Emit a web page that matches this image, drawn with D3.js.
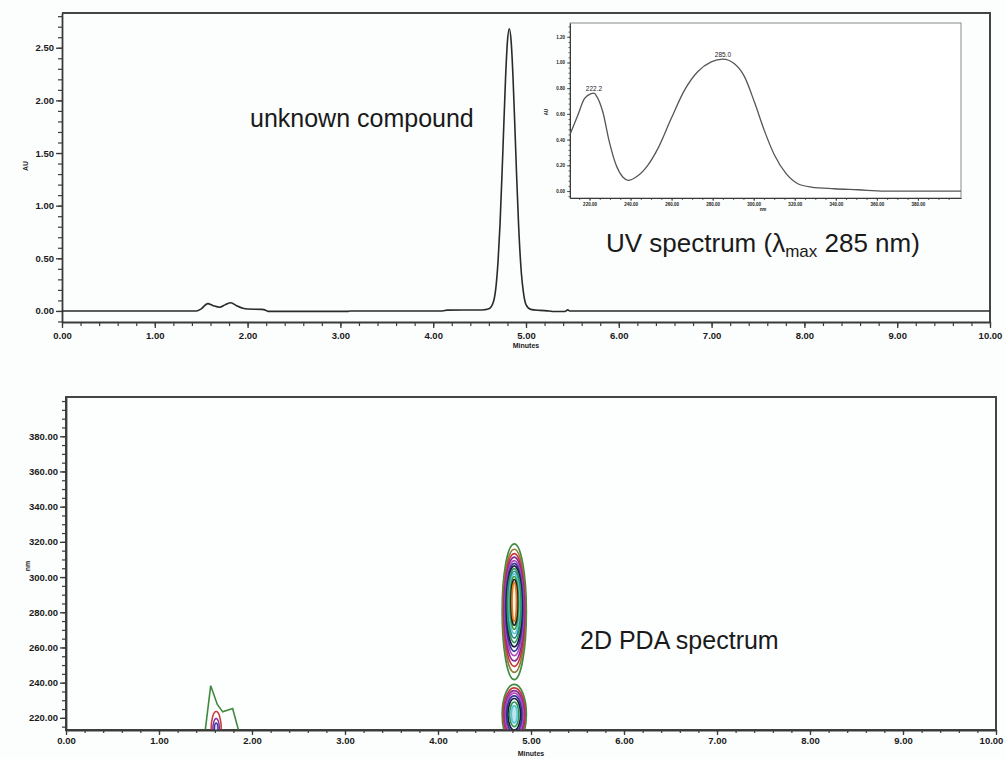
<!DOCTYPE html>
<html lang="en">
<head>
<meta charset="utf-8">
<title>Chromatogram and PDA spectrum</title>
<script src="https://cdn.jsdelivr.net/npm/d3@7"></script>
<style>
  body { margin: 0; background: #fcfdfd; }
  svg text { font-family: "Liberation Sans", Arial, sans-serif; fill: #1a1a1a; }
  .tick text { font-weight: bold; }
  .tick line, .domain { stroke: #3a3a3a; }
</style>
</head>
<body>
<script>
// chromatogram trace (minutes, AU)
var tMin = [0, 1.45, 1.50, 1.57, 1.63, 1.70, 1.76, 1.82, 1.88, 1.95, 2.00, 2.15, 2.20, 2.22, 3.08, 3.10, 4.10, 4.15, 4.50, 4.55, 4.60, 4.65, 4.68, 4.70, 4.72, 4.75, 4.78, 4.80, 4.82, 4.84, 4.86, 4.88, 4.90, 4.92, 4.95, 4.97, 5.00, 5.05, 5.15, 5.25, 5.30, 5.42, 5.45, 5.47, 10];
var au   = [0, 0, 0.02, 0.07, 0.05, 0.035, 0.06, 0.078, 0.05, 0.025, 0.018, 0.015, 0.005, -0.004, -0.004, 0, 0, 0.008, 0.009, 0.012, 0.02, 0.09, 0.26, 0.49, 0.82, 1.5, 2.22, 2.56, 2.68, 2.56, 2.22, 1.75, 1.26, 0.82, 0.36, 0.19, 0.06, 0.015, 0.005, 0, -0.005, -0.005, 0.01, 0, 0];

// UV spectrum of the main peak
var uvNm = [210.7, 214.3, 217.6, 220.8, 222.2, 223.2, 226.5, 229.7, 233.0, 236.2, 239.0, 242.7, 248.4, 253.3, 259.8, 266.3, 272.8, 279.3, 285.0, 290.6, 295.5, 300.4, 305.2, 310.1, 315.8, 321.5, 328.0, 339.3, 350.7, 363.7, 401];
var uvAU = [0.447, 0.59, 0.72, 0.758, 0.762, 0.745, 0.615, 0.38, 0.2, 0.109, 0.083, 0.109, 0.2, 0.33, 0.564, 0.785, 0.93, 1.005, 1.026, 0.99, 0.89, 0.69, 0.47, 0.28, 0.135, 0.057, 0.031, 0.018, 0.01, 0.0, 0.0];
var uvPeakNm = [222.2, 285.0];
var uvPeakAU = [0.762, 1.026];
var uvPeakLabels = ["222.2", "285.0"];

// tick labels
var topXTicks = [0, 1, 2, 3, 4, 5, 6, 7, 8, 9, 10];
var topYTicks = [0, 0.5, 1.0, 1.5, 2.0, 2.5];
var botYTicks = [220, 240, 260, 280, 300, 320, 340, 360, 380];
var inXTicks = [220, 240, 260, 280, 300, 320, 340, 360, 380];
var inYTicks = [0, 0.2, 0.4, 0.6, 0.8, 1.0, 1.2];

// 2D PDA contours: main peak, upper band (outer -> inner)
var mainT = 4.82;
var upperCenterNm = [280.3, 280.8, 281.3, 281.8, 282.3, 282.8, 283.3, 283.8, 284.3, 284.8, 285.3, 285.6, 285.8];
var upperHalfNm   = [38.6, 35.0, 32.0, 29.5, 27.0, 25.0, 23.0, 21.0, 19.0, 17.0, 15.0, 13.0, 11.0];
var upperHalfT    = [0.13, 0.122, 0.115, 0.108, 0.10, 0.092, 0.083, 0.074, 0.065, 0.055, 0.045, 0.035, 0.024];
// main peak, lower band (around 222 nm, cut by the axis)
var lowerCenterNm = [222, 222, 222, 222, 222, 222, 222, 222];
var lowerHalfNm   = [17, 15, 13.5, 12, 10.5, 9, 7, 5];
var lowerHalfT    = [0.13, 0.118, 0.106, 0.095, 0.083, 0.068, 0.05, 0.032];
// small early peaks
var earlyGreenT  = [1.495, 1.556, 1.627, 1.685, 1.792, 1.86];
var earlyGreenNm = [212, 238.3, 227.6, 223.4, 225.3, 212];
var earlyT = 1.615;
var earlyHalfT  = [0.055, 0.036, 0.02];
var earlyHalfNm = [10.5, 6.5, 4];

var upperColors = ["#3f8a3f", "#8f7a3a", "#c83838", "#8a2c9c", "#b048b8", "#34349e", "#1c1c3c", "#2f9a58", "#2a8a8a", "#5cc6d8", "#3a9a3a", "#222222", "#e07a20"];
var lowerColors = ["#3f8a3f", "#c83838", "#8a2c9c", "#b048b8", "#34349e", "#1c1c3c", "#2f9a58", "#5cc6d8"];
var earlyColors = ["#c83838", "#8a2c9c", "#34349e"];

var svg = d3.select("body").append("svg")
  .attr("width", 1005)
  .attr("height", 759);

function axisPair(g, axisFn, scale, majors, minors, majorLen, minorLen, pad, fmt, fs) {
  g.append("g")
    .call(axisFn(scale).tickValues(minors).tickSize(minorLen).tickFormat(""))
    .call(function(s) { s.select(".domain").remove(); })
    .selectAll("line").attr("stroke-width", 1.2);
  var a = g.append("g")
    .call(axisFn(scale).tickValues(majors).tickSize(majorLen).tickSizeOuter(0).tickPadding(pad).tickFormat(fmt));
  a.selectAll("line").attr("stroke-width", 1.3);
  a.select(".domain").attr("stroke-width", 1.8);
  a.selectAll("text").attr("font-size", fs).attr("font-family", "'Liberation Sans Narrow', 'Liberation Sans', Arial");
  return a;
}

// ---------------- top chromatogram ----------------
var xTop = d3.scaleLinear().domain([0, 10]).range([62, 990]);
var yTop = d3.scaleLinear().domain([-0.105, 2.83]).range([322, 13]);

var topG = svg.append("g");
topG.append("path")
  .attr("d", "M62,13H990V322")
  .attr("fill", "none").attr("stroke", "#444").attr("stroke-width", 2);

axisPair(topG.append("g").attr("transform", "translate(0,322)"), d3.axisBottom, xTop,
  topXTicks, d3.range(0, 10.01, 0.2), 6, 4, 4, d3.format(".2f"), 9.5);
axisPair(topG.append("g").attr("transform", "translate(62,0)"), d3.axisLeft, yTop,
  topYTicks, d3.range(-0.1, 2.81, 0.1), 6, 4, 2, d3.format(".2f"), 9.5);

topG.append("text").attr("x", 526).attr("y", 348).attr("text-anchor", "middle")
  .attr("font-size", 7).attr("font-weight", "bold").text("Minutes");
topG.append("text").attr("transform", "translate(28,166) rotate(-90)").attr("text-anchor", "middle")
  .attr("font-size", 7).attr("font-weight", "bold").text("AU");

var trace = d3.line()
  .x(function(d, i) { return xTop(tMin[i]); })
  .y(function(d, i) { return yTop(au[i]); })
  .curve(d3.curveMonotoneX);
topG.append("path").datum(au)
  .attr("d", trace).attr("fill", "none")
  .attr("stroke", "#2a2a2a").attr("stroke-width", 1.6);

topG.append("text").attr("x", 250).attr("y", 127)
  .attr("font-size", 25).text("unknown compound");

var uv = topG.append("text").attr("x", 606).attr("y", 252).attr("font-size", 26);
uv.append("tspan").text("UV spectrum (\u03bb");
uv.append("tspan").attr("font-size", 17).attr("dy", 5).text("max");
uv.append("tspan").attr("dy", -5).text(" 285 nm)");

// ---------------- inset UV spectrum ----------------
var xIn = d3.scaleLinear().domain([210.5, 401]).range([570, 961]);
var yIn = d3.scaleLinear().domain([-0.054, 1.307]).range([198, 23]);
var inset = topG.append("g");
inset.append("rect").attr("x", 570).attr("y", 23).attr("width", 391).attr("height", 175)
  .attr("fill", "#fff").attr("stroke", "#8a8a8a").attr("stroke-width", 1);
axisPair(inset.append("g").attr("transform", "translate(0,198)"), d3.axisBottom, xIn,
  inXTicks, d3.range(215, 400, 5), 3, 2, 2, d3.format(".2f"), 4.5);
axisPair(inset.append("g").attr("transform", "translate(570,0)"), d3.axisLeft, yIn,
  inYTicks, d3.range(-0.04, 1.3, 0.04), 3, 1.5, 2, d3.format(".2f"), 4.5);
inset.selectAll(".tick line").attr("stroke-width", 0.8);
inset.selectAll(".domain").attr("stroke-width", 1);
inset.append("text").attr("x", 763).attr("y", 211).attr("text-anchor", "middle")
  .attr("font-size", 4.5).attr("font-weight", "bold").text("nm");
inset.append("text").attr("transform", "translate(548,112) rotate(-90)").attr("text-anchor", "middle")
  .attr("font-size", 4.5).attr("font-weight", "bold").text("AU");
var uvLine = d3.line()
  .x(function(d, i) { return xIn(uvNm[i]); })
  .y(function(d, i) { return yIn(uvAU[i]); })
  .curve(d3.curveMonotoneX);
inset.append("path").datum(uvAU).attr("d", uvLine)
  .attr("fill", "none").attr("stroke", "#555").attr("stroke-width", 1.3);
inset.selectAll(".pk").data(uvPeakNm).enter().append("text")
  .attr("x", function(d) { return xIn(d); })
  .attr("y", function(d, i) { return yIn(uvPeakAU[i]) - 2; })
  .attr("text-anchor", "middle").attr("font-size", 6.5)
  .text(function(d, i) { return uvPeakLabels[i]; });

// ---------------- bottom 2D PDA ----------------
var xBot = d3.scaleLinear().domain([0, 10]).range([66, 996]);
var yBot = d3.scaleLinear().domain([213.1, 402.3]).range([730, 397]);
var bot = svg.append("g");
bot.append("rect").attr("x", 66).attr("y", 397).attr("width", 930).attr("height", 333)
  .attr("fill", "#fdfefe").attr("stroke", "#444").attr("stroke-width", 2);
svg.append("clipPath").attr("id", "clipBot").append("rect")
  .attr("x", 66).attr("y", 397).attr("width", 930).attr("height", 333);

var cont = bot.append("g").attr("clip-path", "url(#clipBot)").attr("fill", "none");
function rings(centerT, centerNm, halfT, halfNm, colors, w, innerFill) {
  cont.append("g").selectAll("ellipse").data(halfT).enter().append("ellipse")
    .attr("cx", xBot(centerT))
    .attr("cy", function(d, i) { return yBot(centerNm[i]); })
    .attr("rx", function(d) { return xBot(centerT + d) - xBot(centerT); })
    .attr("ry", function(d, i) { return yBot(centerNm[i] - halfNm[i]) - yBot(centerNm[i]); })
    .attr("stroke", function(d, i) { return colors[i]; })
    .attr("stroke-width", w)
    .attr("fill", function(d, i) { return i === halfT.length - 1 ? innerFill : "none"; });
}
rings(mainT, upperCenterNm, upperHalfT, upperHalfNm, upperColors, 1.7, "#fff4e8");
rings(mainT, lowerCenterNm, lowerHalfT, lowerHalfNm, lowerColors, 1.7, "#bfe6ee");
rings(earlyT, [213.1, 213.1, 213.1], earlyHalfT, earlyHalfNm, earlyColors, 1.5, "#e6d6f0");
cont.append("path").datum(earlyGreenT)
  .attr("d", d3.line()
    .x(function(d) { return xBot(d); })
    .y(function(d, i) { return yBot(earlyGreenNm[i]); }))
  .attr("stroke", "#3f8a3f").attr("stroke-width", 1.6).attr("fill", "none");

var bx = axisPair(bot.append("g").attr("transform", "translate(0,730)"), d3.axisBottom, xBot,
  topXTicks, d3.range(0, 10.01, 0.2), 5, 3, 2, d3.format(".2f"), 9.5);
// keep the last label inside the page
bx.selectAll(".tick text").filter(function(d) { return d === 10; }).attr("dx", -5);
axisPair(bot.append("g").attr("transform", "translate(66,0)"), d3.axisLeft, yBot,
  botYTicks, d3.range(215, 401, 5), 6, 4, 2, d3.format(".2f"), 9.5);
bot.append("text").attr("x", 531).attr("y", 756).attr("text-anchor", "middle")
  .attr("font-size", 7).attr("font-weight", "bold").text("Minutes");
bot.append("text").attr("transform", "translate(30,566) rotate(-90)").attr("text-anchor", "middle")
  .attr("font-size", 7).attr("font-weight", "bold").text("nm");

bot.append("text").attr("x", 580).attr("y", 649)
  .attr("font-size", 25).text("2D PDA spectrum");
</script>
</body>
</html>
